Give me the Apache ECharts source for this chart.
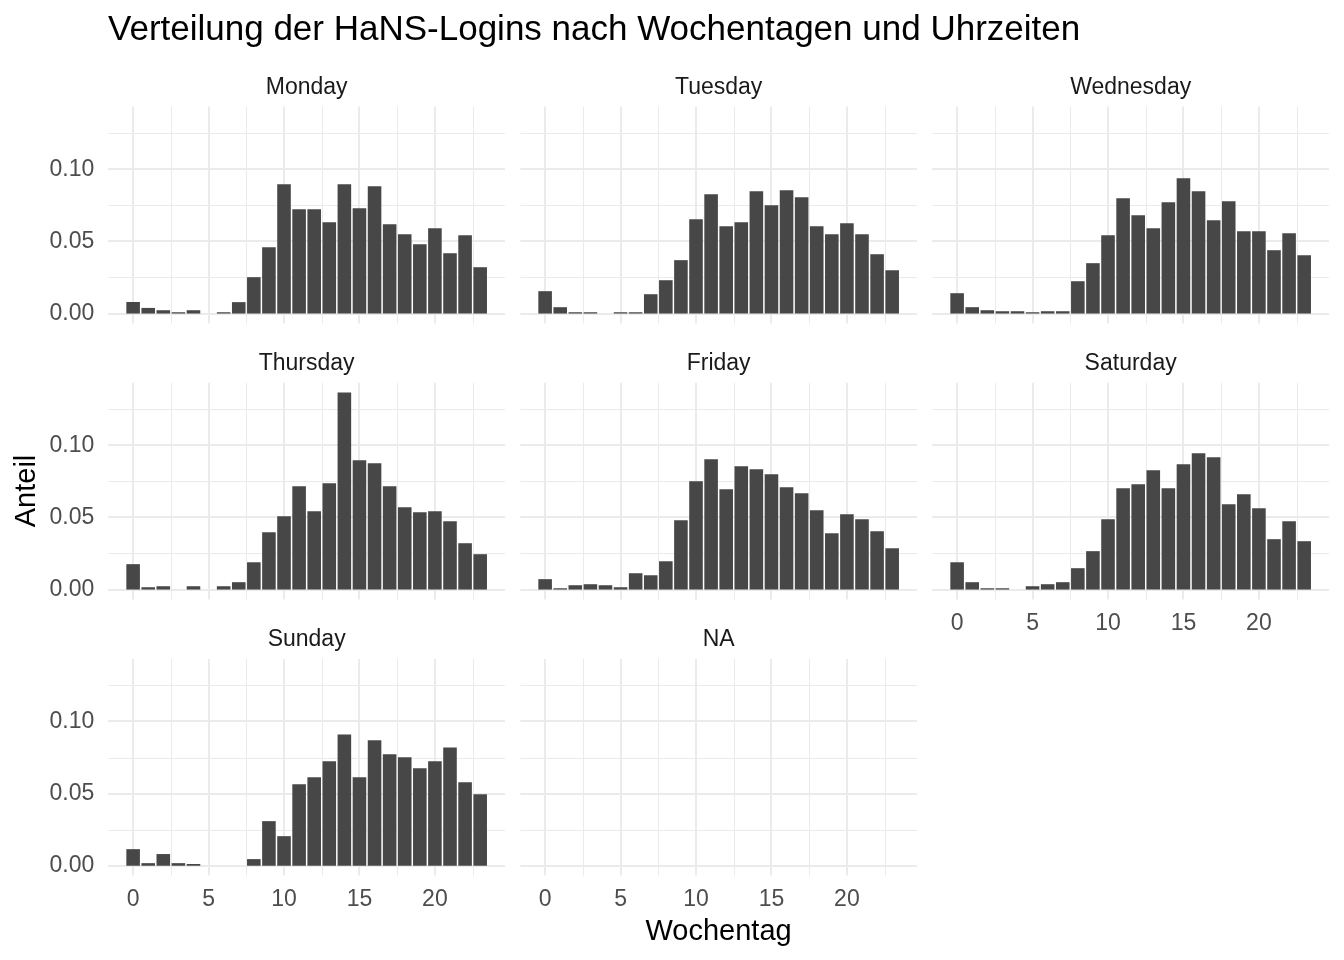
<!DOCTYPE html>
<html>
<head>
<meta charset="utf-8">
<script src="https://cdn.jsdelivr.net/npm/echarts@6/dist/echarts.min.js"></script>
<style>
html,body{margin:0;padding:0;background:#ffffff;}
#c{width:1344px;height:960px;}
</style>
</head>
<body>
<div id="c"></div>
<script>
// ---- data ----
const hours = [0,1,2,3,4,5,6,7,8,9,10,11,12,13,14,15,16,17,18,19,20,21,22,23];
const panelNames = ['Monday','Tuesday','Wednesday','Thursday','Friday','Saturday','Sunday','NA'];

const monday    = [0.0080,0.0039,0.0023,0.0009,0.0023,null,0.0009,0.0079,0.0252,0.0460,0.0896,0.0723,0.0723,0.0633,0.0896,0.0730,0.0882,0.0619,0.0550,0.0480,0.0591,0.0418,0.0543,0.0321];
const tuesday   = [0.0155,0.0044,0.0009,0.0009,null,0.0009,0.0009,0.0134,0.0231,0.0370,0.0654,0.0827,0.0605,0.0633,0.0848,0.0751,0.0855,0.0806,0.0605,0.0550,0.0626,0.0550,0.0411,0.0300];
const wednesday = [0.0141,0.0044,0.0023,0.0016,0.0016,0.0009,0.0016,0.0016,0.0224,0.0349,0.0543,0.0799,0.0681,0.0591,0.0771,0.0938,0.0848,0.0647,0.0778,0.0570,0.0570,0.0439,0.0557,0.0404];
const thursday  = [0.0176,0.0016,0.0023,null,0.0023,null,0.0023,0.0051,0.0189,0.0397,0.0508,0.0716,0.0543,0.0737,0.1365,0.0896,0.0875,0.0716,0.0570,0.0536,0.0543,0.0473,0.0321,0.0245];
const friday    = [0.0072,0.0009,0.0030,0.0037,0.0030,0.0016,0.0113,0.0099,0.0196,0.0480,0.0751,0.0903,0.0695,0.0855,0.0834,0.0799,0.0709,0.0667,0.0550,0.0390,0.0522,0.0487,0.0404,0.0286];
const saturday  = [0.0189,0.0051,0.0009,0.0009,null,0.0023,0.0037,0.0051,0.0148,0.0266,0.0487,0.0702,0.0730,0.0827,0.0702,0.0868,0.0945,0.0917,0.0591,0.0660,0.0564,0.0349,0.0473,0.0335];
const sunday    = [0.0115,0.0018,0.0081,0.0018,0.0012,null,null,null,0.0046,0.0309,0.0205,0.0565,0.0613,0.0724,0.0910,0.0613,0.0869,0.0772,0.0751,0.0675,0.0724,0.0820,0.0578,0.0495];
const naDay     = [null,null,null,null,null,null,null,null,null,null,null,null,null,null,null,null,null,null,null,null,null,null,null,null];

const xTickLabels = [0,5,10,15,20];
const xMinorBreaks = [2.5,7.5,12.5,17.5,22.5];
const yTickLabels = [0,0.05,0.10];
const yMinorBreaks = [0.025,0.075,0.125];

const chartTitle = 'Verteilung der HaNS-Logins nach Wochentagen und Uhrzeiten';
const xTitle = 'Wochentag';
const yTitle = 'Anteil';

// ---- build chart ----
const allDays = [monday,tuesday,wednesday,thursday,friday,saturday,sunday,naDay];
const FONT = '"Liberation Sans", Arial, Helvetica, sans-serif';
const BAR = '#474747';
const GRIDC = '#EBEBEB';

let maxVal = 0;
allDays.forEach(d => d.forEach(v => { if (v != null && v > maxVal) maxVal = v; }));
const yMin = -0.05 * maxVal, yMax = maxVal * 1.05;
const xLo = hours[0] - 0.45, xHi = hours[hours.length-1] + 0.45, xSpan = xHi - xLo;
const xMin = xLo - 0.05 * xSpan, xMax = xHi + 0.05 * xSpan;

const colLeft = [108.3, 520.3, 932.3];
const rowTop = [106.7, 382.7, 658.9];
const panelW = 396.7, panelH = 216.7;

const grids = [], xAxes = [], yAxes = [], series = [], graphics = [];

// gridline records: [x, y, kind]  kind 0 = vertical major, 1 = vertical minor, 2 = horizontal major, 3 = horizontal minor
const gridData = [];
xTickLabels.forEach(v => gridData.push([v, 0, 0]));
xMinorBreaks.forEach(v => gridData.push([v, 0, 1]));
yTickLabels.forEach(v => gridData.push([0, v, 2]));
yMinorBreaks.forEach(v => gridData.push([0, v, 3]));

function renderGrid(params, api) {
  const cs = params.coordSys;
  const k = api.value(2);
  const major = (k === 0 || k === 2);
  const lw = major ? 2 : 1;
  if (k === 0 || k === 1) {
    const p = api.coord([api.value(0), 0]);
    let x = Math.round(p[0]); if (!major) x += 0.5;
    return {type:'line', shape:{x1:x, y1:cs.y, x2:x, y2:cs.y + cs.height}, style:{stroke:GRIDC, lineWidth:lw}};
  } else {
    const p = api.coord([0, api.value(1)]);
    let y = Math.round(p[1]); if (!major) y += 0.5;
    return {type:'line', shape:{x1:cs.x, y1:y, x2:cs.x + cs.width, y2:y}, style:{stroke:GRIDC, lineWidth:lw}};
  }
}

panelNames.forEach((name, i) => {
  const col = i % 3, row = Math.floor(i / 3);
  const showX = (i === 5 || i === 6 || i === 7);
  const showY = (col === 0);
  grids.push({left: colLeft[col], top: rowTop[row], width: panelW, height: panelH, containLabel: false, outerBoundsMode: 'none'});
  xAxes.push({
    type: 'value', gridIndex: i, min: xMin, max: xMax,
    axisLine: {show: false}, axisTick: {show: false}, splitLine: {show: false},
    axisLabel: {show: showX, customValues: xTickLabels, margin: 13, color: '#4D4D4D', fontSize: 23, fontFamily: FONT,
      formatter: v => String(v)}
  });
  yAxes.push({
    type: 'value', gridIndex: i, min: yMin, max: yMax,
    axisLine: {show: false}, axisTick: {show: false}, splitLine: {show: false},
    axisLabel: {show: showY, customValues: yTickLabels, margin: 14, padding: [4, 0, 0, 0], color: '#4D4D4D', fontSize: 23, fontFamily: FONT,
      formatter: v => v.toFixed(2)}
  });
  series.push({
    type: 'custom', xAxisIndex: i, yAxisIndex: i, z: 1, silent: true,
    renderItem: renderGrid, encode: {x: 0, y: 1}, data: gridData, clip: false
  });
  const d = allDays[i];
  const barData = [];
  hours.forEach((h, j) => { if (d[j] != null) barData.push([h, d[j]]); });
  if (barData.length) {
    series.push({
      type: 'bar', xAxisIndex: i, yAxisIndex: i, z: 2, barWidth: '90%',
      itemStyle: {color: BAR}, data: barData, silent: true
    });
  }
  // strip label
  graphics.push({
    type: 'text', x: colLeft[col] + panelW / 2, y: rowTop[row] - 19, silent: true,
    style: {text: name, fill: '#1A1A1A', fontSize: 23, fontFamily: FONT, align: 'center', verticalAlign: 'middle'}
  });
});

graphics.push({type: 'text', x: 108, y: 30, silent: true,
  style: {text: chartTitle, fill: '#000000', fontSize: 35, fontFamily: FONT, align: 'left', verticalAlign: 'middle'}});
graphics.push({type: 'text', x: 718.6, y: 932, silent: true,
  style: {text: xTitle, fill: '#000000', fontSize: 29, fontFamily: FONT, align: 'center', verticalAlign: 'middle'}});
graphics.push({type: 'text', x: 27, y: 491, rotation: Math.PI / 2, silent: true,
  style: {text: yTitle, fill: '#000000', fontSize: 29, fontFamily: FONT, align: 'center', verticalAlign: 'middle'}});

const chart = echarts.init(document.getElementById('c'), null, {renderer: 'canvas'});
chart.setOption({
  animation: false,
  backgroundColor: '#ffffff',
  grid: grids,
  xAxis: xAxes,
  yAxis: yAxes,
  series: series,
  graphic: graphics
});
</script>
</body>
</html>
